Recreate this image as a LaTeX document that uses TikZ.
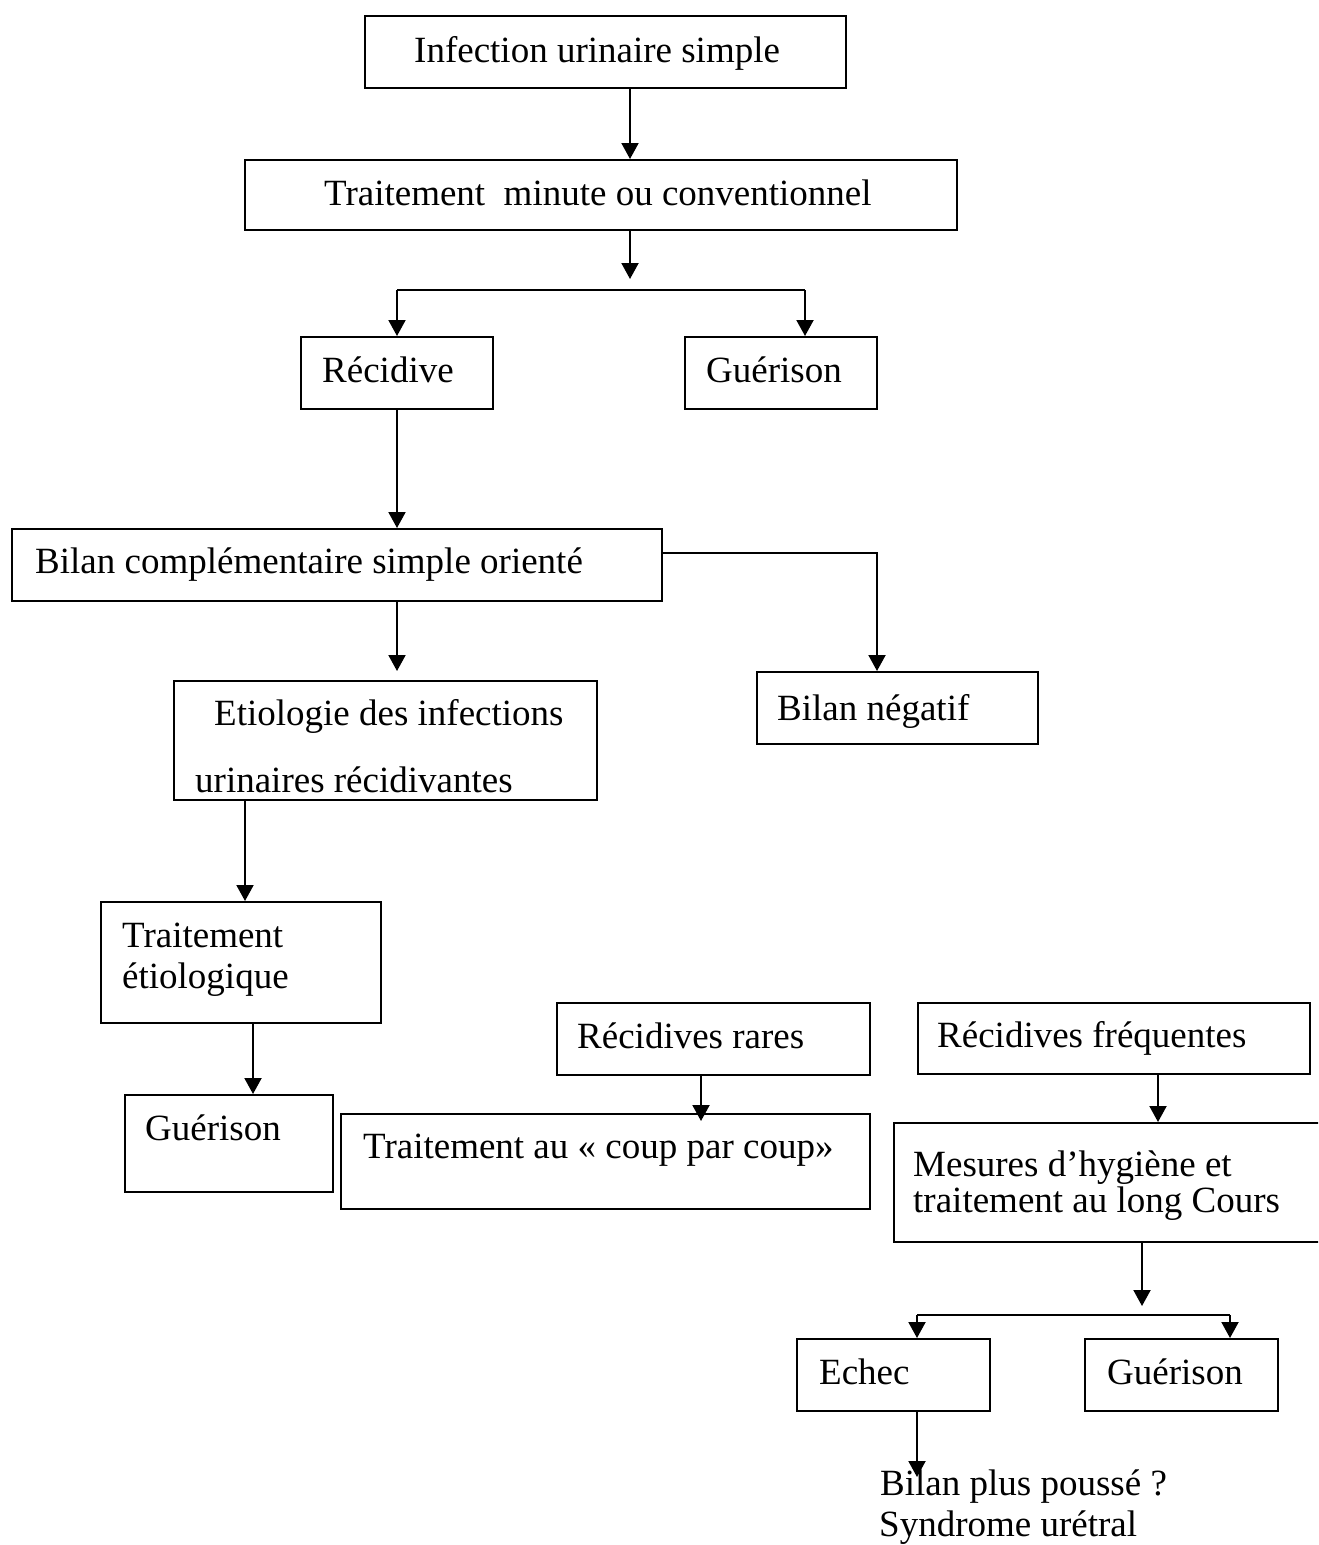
\documentclass[tikz,border=0pt]{standalone}
\usepackage{fontspec}
\setmainfont{Liberation Serif}
\usetikzlibrary{arrows.meta,calc}
\begin{document}
\begin{tikzpicture}[x=1pt,y=-1pt,
  box/.style={draw,line width=2pt,inner sep=0pt},
  txt/.style={anchor=base west,inner sep=0pt,font=\fontsize{37}{40}\selectfont},
  arr/.style={line width=2pt,-{Triangle[length=16pt,width=17pt]}},
  ln/.style={line width=2pt}]
\useasboundingbox (0,0) rectangle (1318,1545);
\clip (0,0) rectangle (1318,1545);

% boxes
\node[box,minimum width=481pt,minimum height=72pt] (b1) at (605.5,52) {};
\node[box,minimum width=712pt,minimum height=70pt] (b2) at (601,195) {};
\node[box,minimum width=192pt,minimum height=72pt] (rec) at (397,373) {};
\node[box,minimum width=192pt,minimum height=72pt] (gue1) at (781,373) {};
\node[box,minimum width=650pt,minimum height=72pt] (bilan) at (337,565) {};
\node[box,minimum width=281pt,minimum height=72pt] (neg) at (897.5,708) {};
\node[box,minimum width=423pt,minimum height=119pt] (etio) at (385.5,740.5) {};
\node[box,minimum width=280pt,minimum height=121pt] (tetio) at (241,962.5) {};
\node[box,minimum width=208pt,minimum height=97pt] (gue2) at (229,1143.5) {};
\node[box,minimum width=313pt,minimum height=72pt] (rares) at (713.5,1039) {};
\node[box,minimum width=529pt,minimum height=95pt] (coup) at (605.5,1161.5) {};
\node[box,minimum width=392pt,minimum height=71pt] (freq) at (1114,1038.5) {};
\node[box,minimum width=436pt,minimum height=119pt] (mes) at (1112,1182.5) {};
\node[box,minimum width=193pt,minimum height=72pt] (echec) at (893.5,1375) {};
\node[box,minimum width=193pt,minimum height=72pt] (gue3) at (1181.5,1375) {};

% texts
\node[txt] (t1) at (414,62) {Infection urinaire simple};
\node[txt] (t2) at (324,205) {Traitement~ minute ou conventionnel};
\node[txt] (t3) at (322,382) {Récidive};
\node[txt] (t4) at (706,382) {Guérison};
\node[txt] (t5) at (35,573) {Bilan complémentaire simple orienté};
\node[txt] (t6) at (777,720) {Bilan négatif};
\node[txt] (t7a) at (214,725) {Etiologie des infections};
\node[txt] (t7b) at (195,792) {urinaires récidivantes};
\node[txt] (t8a) at (122,947) {Traitement};
\node[txt] (t8b) at (122,988) {étiologique};
\node[txt] (t9) at (145,1140) {Guérison};
\node[txt] (t10) at (577,1048) {Récidives rares};
\node[txt] (t11) at (363,1158) {Traitement au « coup par coup»};
\node[txt] (t12) at (937,1047) {Récidives fréquentes};
\node[txt] (t13a) at (913,1176) {Mesures d’hygiène et};
\node[txt] (t13b) at (913,1212) {traitement au long Cours};
\node[txt] (t14) at (819,1384) {Echec};
\node[txt] (t15) at (1107,1384) {Guérison};

% column and row references for the connectors
\coordinate (x630) at (630,0);
\coordinate (x397) at (397,0);
\coordinate (x877) at (877,0);
\coordinate (x245) at (245,0);
\coordinate (x253) at (253,0);
\coordinate (x701) at (701,0);
\coordinate (x1158) at (1158,0);
\coordinate (x1142) at (1142,0);
\coordinate (x917) at (917,0);
\coordinate (r553) at (0,553);
\coordinate (s2) at (630,279);
\coordinate (brL) at (397,290);
\coordinate (brR) at (805,290);
\coordinate (s10) at (1142,1306);
\coordinate (b3L) at (917,1315);
\coordinate (b3R) at (1230,1315);
\coordinate (s11) at (917,1477);

% connectors
\draw[arr] (b1.south -| x630) -- (b2.north -| x630);
\draw[arr] (b2.south -| x630) -- (s2);
\draw[ln] (brL) -- (brR);
\draw[arr] (brL) -- (rec.north);
\draw[arr] (brR) -- (brR |- gue1.north);
\draw[arr] (rec.south) -- (rec.south |- bilan.north);
\draw[arr] (bilan.east |- r553) -| (neg.north -| x877);
\draw[arr,shorten >=9pt] (bilan.south -| x397) -- (etio.north -| x397);
\draw[arr] (etio.south -| x245) -- (tetio.north -| x245);
\draw[arr] (tetio.south -| x253) -- (gue2.north -| x253);
\draw[arr,shorten >=-8pt] (rares.south -| x701) -- (coup.north -| x701);
\draw[arr] (freq.south -| x1158) -- (mes.north -| x1158);
\draw[arr] (mes.south -| x1142) -- (s10);
\draw[ln] (b3L) -- (b3R);
\draw[arr] (b3L) -- (b3L |- echec.north);
\draw[arr] (b3R) -- (b3R |- gue3.north);
\draw[arr] (echec.south -| x917) -- (s11);

% closing note below the failure branch
\node[txt] (t16a) at (880,1495) {Bilan plus poussé ?};
\node[txt] (t16b) at (879,1536) {Syndrome urétral};
\end{tikzpicture}
\end{document}
